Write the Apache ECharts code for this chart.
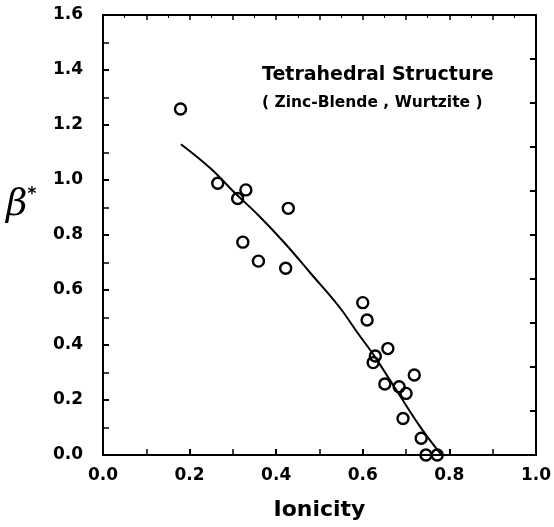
<!DOCTYPE html>
<html>
<head>
<meta charset="utf-8">
<script src="https://cdn.jsdelivr.net/npm/echarts@6/dist/echarts.min.js"></script>
<style>
  html, body { margin: 0; padding: 0; background: #fff; }
  #chart { width: 554px; height: 527px; }
</style>
</head>
<body>
<div id="chart"></div>
<script>
// Measured beta* against ionicity for tetrahedral compounds
const ionicity = [0.179, 0.265, 0.330, 0.311, 0.428, 0.323, 0.359, 0.422, 0.600, 0.610,
                  0.629, 0.624, 0.658, 0.651, 0.684, 0.700, 0.719, 0.693, 0.735, 0.746, 0.772];
const betaStar = [1.258, 0.988, 0.964, 0.933, 0.897, 0.774, 0.705, 0.679, 0.554, 0.491,
                  0.360, 0.336, 0.387, 0.258, 0.248, 0.224, 0.291, 0.133, 0.061, 0.0, 0.0];

// Fitted trend line
const fitIonicity = [0.18, 0.25, 0.30, 0.36, 0.42, 0.48, 0.545, 0.59, 0.625, 0.68, 0.736, 0.782];
const fitBeta     = [1.13, 1.04, 0.96, 0.87, 0.77, 0.66, 0.54, 0.44, 0.364, 0.23, 0.095, 0.0];

const titleLines = ['Tetrahedral Structure', '( Zinc-Blende , Wurtzite )'];
const xName = 'Ionicity';

const points = ionicity.map((x, i) => [x, betaStar[i]]);
const fit = fitIonicity.map((x, i) => [x, fitBeta[i]]);

const chart = echarts.init(document.getElementById('chart'), null, { renderer: 'canvas' });

const ink = '#000';
const labelFont = { fontFamily: 'DejaVu Sans', fontWeight: 'bold', fontSize: 17, color: ink };

chart.setOption({
  animation: false,
  backgroundColor: '#fff',
  grid: { left: 103, right: 12, top: 15, bottom: 72 },
  xAxis: [
    {
      type: 'value', position: 'bottom', min: 0, max: 1, interval: 0.2,
      name: xName, nameLocation: 'middle', nameGap: 44,
      nameTextStyle: { fontFamily: 'DejaVu Sans', fontWeight: 'bold', fontSize: 22, color: ink },
      axisLine: { show: true, onZero: false, lineStyle: { color: ink, width: 2 } },
      axisTick: { show: true, inside: true, length: 6, lineStyle: { color: ink, width: 2 } },
      minorTick: { show: true, splitNumber: 2, length: 6, lineStyle: { color: ink, width: 1.5 } },
      axisLabel: Object.assign({ margin: 12, formatter: v => v.toFixed(1) }, labelFont),
      splitLine: { show: false }
    },
    {
      type: 'value', position: 'top', min: 0, max: 1, interval: 0.1,
      axisLine: { show: true, onZero: false, lineStyle: { color: ink, width: 2 } },
      axisTick: { show: true, inside: true, length: 5, lineStyle: { color: ink, width: 1.5 } },
      minorTick: { show: true, splitNumber: 2, length: 3, lineStyle: { color: ink, width: 1 } },
      axisLabel: { show: false },
      splitLine: { show: false }
    }
  ],
  yAxis: [
    {
      type: 'value', position: 'left', min: 0, max: 1.6, interval: 0.2,
      axisLine: { show: true, onZero: false, lineStyle: { color: ink, width: 2 } },
      axisTick: { show: true, inside: true, length: 6, lineStyle: { color: ink, width: 2 } },
      minorTick: { show: true, splitNumber: 2, length: 6, lineStyle: { color: ink, width: 1.5 } },
      axisLabel: Object.assign({ margin: 20, formatter: v => v.toFixed(1) }, labelFont),
      splitLine: { show: false }
    },
    {
      type: 'value', position: 'right', min: 0, max: 1.6, interval: 0.16,
      axisLine: { show: true, onZero: false, lineStyle: { color: ink, width: 2 } },
      axisTick: { show: true, inside: true, length: 6, lineStyle: { color: ink, width: 2 } },
      axisLabel: { show: false },
      splitLine: { show: false }
    }
  ],
  series: [
    {
      type: 'line', data: fit, smooth: 0.4, symbol: 'none',
      xAxisIndex: 0, yAxisIndex: 0, clip: false,
      lineStyle: { color: ink, width: 2 }
    },
    {
      type: 'scatter', data: points, symbol: 'circle', symbolSize: 11,
      xAxisIndex: 0, yAxisIndex: 0, clip: false,
      itemStyle: { color: 'rgba(0,0,0,0)', borderColor: ink, borderWidth: 2.4, opacity: 1 }
    }
  ],
  graphic: [
    {
      type: 'text', left: 6, top: 186,
      style: {
        text: '{b|β}{s|*}',
        rich: {
          b: { fontFamily: 'DejaVu Serif', fontStyle: 'italic', fontSize: 37, fill: ink },
          s: { fontFamily: 'DejaVu Sans', fontWeight: 'bold', fontSize: 17, fill: ink, verticalAlign: 'top', padding: [0, 0, 22, 0] }
        }
      }
    },
    {
      type: 'text', left: 262, top: 66,
      style: { text: titleLines[0], fontFamily: 'DejaVu Sans', fontWeight: 'bold', fontSize: 19, fill: ink }
    },
    {
      type: 'text', left: 262, top: 95,
      style: { text: titleLines[1], fontFamily: 'DejaVu Sans', fontWeight: 'bold', fontSize: 15.5, fill: ink }
    }
  ]
});
</script>
</body>
</html>
